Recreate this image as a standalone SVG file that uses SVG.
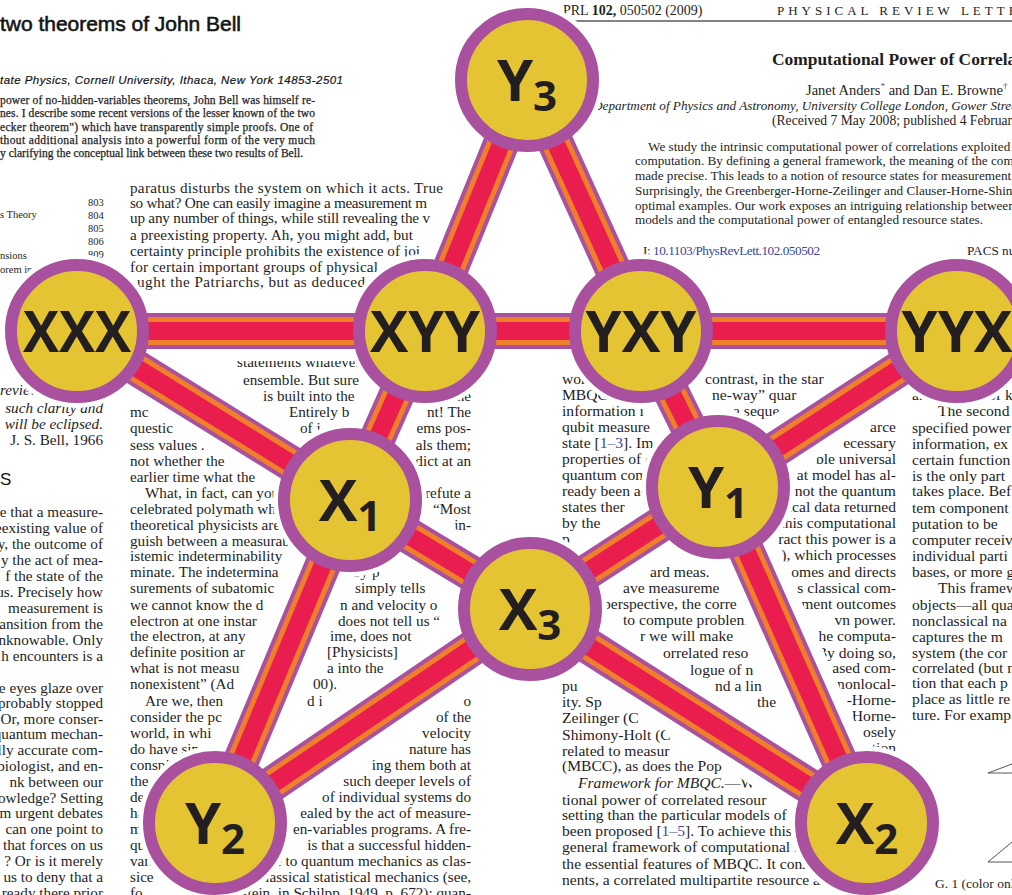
<svg xmlns="http://www.w3.org/2000/svg" xmlns:xlink="http://www.w3.org/1999/xlink" width="1012" height="895" viewBox="0 0 1012 895">
  <style>
    .t { font-family: "Liberation Serif", "Times New Roman", serif; fill: #1e1e1e; }
    .s { font-family: "Liberation Sans", Arial, sans-serif; fill: #151515; }
    .m { font-size: 15.2px; }
    .r { font-size: 15.6px; }
    .ab { font-size: 13.2px; }
    .la { font-size: 11.5px; stroke: #1e1e1e; stroke-width: 0.25; }
    .it { font-style: italic; }
    .e { text-anchor: end; }
    .lnk { fill: #3a45a0; }
    .halo { stroke: #ffffff; stroke-width: 60; }
    .bp { stroke: #a9519e; stroke-width: 36; }
    .bo { stroke: #ef7f2a; stroke-width: 28; }
    .br { stroke: #e91e4e; stroke-width: 18; }
    .node circle { fill: #e5c434; stroke: #a9519e; stroke-width: 12; }
    .lb { font-family: "Open Sans", "Liberation Sans", sans-serif; font-weight: 700; font-size: 58px; fill: #231f20; text-anchor: middle; }
    .sub { font-size: 42px; }
  </style>
  <defs>
    <line id="l1" x1="77" y1="331" x2="425" y2="331"/>
    <line id="l2" x1="425" y1="331" x2="641" y2="331"/>
    <line id="l3" x1="641" y1="331" x2="957" y2="331"/>
    <line id="l4" x1="527" y1="80" x2="425" y2="331"/>
    <line id="l5" x1="527" y1="80" x2="641" y2="331"/>
    <line id="l6" x1="425" y1="331" x2="350" y2="500"/>
    <line id="l7" x1="641" y1="331" x2="718" y2="487"/>
    <line id="l8" x1="77" y1="331" x2="350" y2="500"/>
    <line id="l9" x1="957" y1="331" x2="718" y2="487"/>
    <line id="l10" x1="350" y1="500" x2="530" y2="609"/>
    <line id="l11" x1="718" y1="487" x2="530" y2="609"/>
    <line id="l12" x1="350" y1="500" x2="215" y2="823"/>
    <line id="l13" x1="718" y1="487" x2="867" y2="823"/>
    <line id="l14" x1="530" y1="609" x2="215" y2="823"/>
    <line id="l15" x1="530" y1="609" x2="867" y2="823"/>
  </defs>

  <rect width="1012" height="895" fill="#ffffff"/>

  <!-- left page: Mermin, two theorems of John Bell -->
  <g id="page-left">
    <text class="s" x="0" y="31" font-size="21" stroke="#151515" stroke-width="0.6" textLength="241">two theorems of John Bell</text>
    <text class="s" x="0" y="84" font-size="11.5" font-style="italic" stroke="#151515" stroke-width="0.2" textLength="343">tate Physics, Cornell University, Ithaca, New York 14853-2501</text>
    <g class="t la">
      <text x="0" y="104" textLength="315">power of no-hidden-variables theorems, John Bell was himself re-</text>
      <text x="0" y="117" textLength="315">nes.  I describe some recent versions of the lesser known of the two</text>
      <text x="0" y="131" textLength="313">ecker theorem") which have transparently simple proofs.  One of</text>
      <text x="0" y="144" textLength="315">thout additional analysis into a powerful form of the very much</text>
      <text x="0" y="157" textLength="303">y clarifying the conceptual link between these two results of Bell.</text>
    </g>
    <g class="t" font-size="10.5">
      <text x="0" y="218">s Theory</text>
      <text x="0" y="259">nsions</text>
      <text x="0" y="273">orem in</text>
      <text x="88" y="206">803</text>
      <text x="88" y="219">804</text>
      <text x="88" y="232">805</text>
      <text x="88" y="245">806</text>
      <text x="88" y="258">809</text>
    </g>
    <g class="t m">
      <text x="130" y="193" textLength="313">paratus disturbs the system on which it acts.  True</text>
      <text x="130" y="208" textLength="297">so what?  One can easily imagine a measurement m</text>
      <text x="130" y="223" textLength="300">up any number of things, while still revealing the v</text>
      <text x="130" y="240" textLength="283">a preexisting property.  Ah, you might add, but</text>
      <text x="130" y="256" textLength="290">certainty principle prohibits the existence of joi</text>
      <text x="130" y="272" textLength="248">for certain important groups of physical</text>
      <text x="137" y="287" textLength="228">ught the Patriarchs, but as deduced</text>

      <text x="237" y="367">statements  whatever</text>
      <text x="243" y="385">ensemble.  But sure</text>
      <text x="263" y="401">is built into the</text>
      <text x="471" y="401" class="e">the</text>
      <text x="130" y="417">mc</text>
      <text x="289" y="417">Entirely b</text>
      <text x="471" y="417" class="e">nt!  The</text>
      <text x="130" y="433">questic</text>
      <text x="300" y="433">of i</text>
      <text x="471" y="433" class="e">ems pos-</text>
      <text x="130" y="450">sess values .</text>
      <text x="471" y="450" class="e">als them;</text>
      <text x="130" y="466">not whether the</text>
      <text x="471" y="466" class="e">dict at an</text>
      <text x="130" y="482">earlier time what the</text>
      <text x="145" y="498">What, in fact, can you</text>
      <text x="471" y="498" class="e">refute a</text>
      <text x="130" y="514">celebrated polymath who</text>
      <text x="471" y="514" class="e">“Most</text>
      <text x="130" y="530">theoretical physicists are</text>
      <text x="471" y="530" class="e">in-</text>
      <text x="130" y="546">guish between a measurab</text>
      <text x="130" y="561">istemic  indeterminability</text>
      <text x="130" y="577">minate.  The indetermina</text>
      <text x="345" y="577">l by p</text>
      <text x="130" y="593">surements of subatomic</text>
      <text x="355" y="593">simply tells</text>
      <text x="130" y="610">we cannot know the d</text>
      <text x="340" y="610">n and velocity o</text>
      <text x="130" y="626">electron at one instar</text>
      <text x="338" y="626">does not tell us “</text>
      <text x="130" y="641">the electron, at any</text>
      <text x="330" y="641">ime, does not</text>
      <text x="130" y="657">definite position ar</text>
      <text x="327" y="657">[Physicists]</text>
      <text x="130" y="673">what is not measu</text>
      <text x="327" y="673">a into the</text>
      <text x="130" y="689">nonexistent” (Ad</text>
      <text x="313" y="689">00).</text>
      <text x="145" y="706">Are we, then</text>
      <text x="307" y="706">d i</text>
      <text x="471" y="706" class="e">o</text>
      <text x="130" y="722">consider the pc</text>
      <text x="471" y="722" class="e">of the</text>
      <text x="130" y="738">world, in whi</text>
      <text x="471" y="738" class="e">velocity</text>
      <text x="130" y="754">do have sin</text>
      <text x="471" y="754" class="e">nature has</text>
      <text x="130" y="770">conspi</text>
      <text x="471" y="770" class="e">ing them both at</text>
      <text x="130" y="786">the</text>
      <text x="471" y="786" class="e">such deeper levels of</text>
      <text x="130" y="802">de</text>
      <text x="471" y="802" class="e">of individual systems do</text>
      <text x="130" y="818">ha</text>
      <text x="471" y="818" class="e">ealed by the act of measure-</text>
      <text x="130" y="834">m</text>
      <text x="471" y="834" class="e">en-variables programs.  A fre-</text>
      <text x="130" y="850">qu</text>
      <text x="471" y="850" class="e">is  that  a  successful  hidden-</text>
      <text x="130" y="866">vari</text>
      <text x="471" y="866" class="e">e to quantum mechanics as clas-</text>
      <text x="130" y="882">sice</text>
      <text x="471" y="882" class="e">classical statistical mechanics (see,</text>
      <text x="130" y="898">fo</text>
      <text x="471" y="898" class="e">nstein, in Schilpp, 1949, p. 672); quan-</text>
    </g>
    <g class="t m">
      <text x="0" y="395" class="it">reviews</text>
      <text x="103" y="413" class="it e">such clarity and</text>
      <text x="103" y="429" class="it e">will be eclipsed.</text>
      <text x="103" y="445" class="e">J. S. Bell, 1966</text>
      <text x="103" y="517" class="e">e that a measure-</text>
      <text x="103" y="533" class="e">eexisting value of</text>
      <text x="103" y="549" class="e">y, the outcome of</text>
      <text x="103" y="565" class="e">y the act of mea-</text>
      <text x="103" y="581" class="e">f the state of the</text>
      <text x="103" y="597" class="e">us.  Precisely how</text>
      <text x="103" y="613" class="e">measurement is</text>
      <text x="103" y="629" class="e">ansition from the</text>
      <text x="103" y="645" class="e">nknowable.  Only</text>
      <text x="103" y="661" class="e">h encounters is a</text>
      <text x="103" y="693" class="e">he eyes glaze over</text>
      <text x="103" y="708" class="e">probably stopped</text>
      <text x="103" y="724" class="e">Or, more conser-</text>
      <text x="103" y="739" class="e">quantum mechan-</text>
      <text x="103" y="755" class="e">lly accurate com-</text>
      <text x="103" y="771" class="e">biologist, and en-</text>
      <text x="103" y="787" class="e">nk between our</text>
      <text x="103" y="803" class="e">owledge?  Setting</text>
      <text x="103" y="818" class="e">m urgent debates</text>
      <text x="103" y="834" class="e">can one point to</text>
      <text x="103" y="850" class="e">that forces on us</text>
      <text x="103" y="866" class="e">?  Or is it merely</text>
      <text x="103" y="882" class="e">us to deny that a</text>
      <text x="103" y="898" class="e">ready there prior</text>
    </g>
    <text class="s" x="0" y="485" font-size="17">S</text>
  </g>

  <!-- right page: PRL 102, 050502 (2009) -->
  <g id="page-right">
    <text class="t" x="563" y="15" font-size="14">PRL <tspan font-weight="700">102,</tspan> 050502 (2009)</text>
    <text class="t" x="777" y="15" font-size="13" letter-spacing="4">PHYSICAL  REVIEW  LETTERS</text>
    <line x1="560" y1="21" x2="1012" y2="21" stroke="#5a5a5a" stroke-width="1.6"/>
    <text class="t" x="772" y="65" font-size="17.4" font-weight="700">Computational Power of Correlations</text>
    <text class="t" x="806" y="95" font-size="14.5">Janet Anders<tspan class="lnk" font-size="9" dy="-6">*</tspan><tspan dy="6"> and Dan E. Browne</tspan><tspan class="lnk" font-size="9" dy="-6">†</tspan></text>
    <text class="t it" x="593" y="110" font-size="13.2">Department of Physics and Astronomy, University College London, Gower Street</text>
    <text class="t" x="772" y="125" font-size="13.6">(Received 7 May 2008; published 4 February 2009)</text>
    <g class="t ab">
      <text x="648" y="151">We study the intrinsic computational power of correlations exploited in</text>
      <text x="635" y="165">computation. By defining a general framework, the meaning of the computational</text>
      <text x="635" y="180">made precise. This leads to a notion of resource states for measurement</text>
      <text x="635" y="195">Surprisingly, the Greenberger-Horne-Zeilinger and Clauser-Horne-Shimony</text>
      <text x="635" y="210">optimal examples. Our work exposes an intriguing relationship between</text>
      <text x="635" y="224" textLength="348">models and the computational power of entangled resource states.</text>
      <text x="643" y="255" textLength="177">I: <tspan class="lnk">10.1103/PhysRevLett.102.050502</tspan></text>
      <text x="967" y="255">PACS numbers</text>
    </g>
    <g class="t r">
      <text x="562" y="384">work</text>
      <text x="705" y="384">contrast, in the star</text>
      <text x="562" y="400">MBQC (</text>
      <text x="712" y="400">ne-way” quar</text>
      <text x="562" y="416">information i</text>
      <text x="733" y="416">a seque</text>
      <text x="562" y="432">qubit measure</text>
      <text x="896" y="432" class="e">arce</text>
      <text x="562" y="448">state [<tspan class="lnk">1–3</tspan>]. Im</text>
      <text x="896" y="448" class="e">ecessary</text>
      <text x="562" y="464">properties of qu</text>
      <text x="896" y="464" class="e">ble universal</text>
      <text x="562" y="480">quantum comp</text>
      <text x="896" y="480" class="e">at model has al-</text>
      <text x="562" y="496">ready been ac</text>
      <text x="896" y="496" class="e">s not the quantum</text>
      <text x="562" y="512">states ther</text>
      <text x="896" y="512" class="e">ssical data returned</text>
      <text x="562" y="528">by the</text>
      <text x="896" y="528" class="e">s this computational</text>
      <text x="562" y="544">p</text>
      <text x="896" y="544" class="e">ract this power is a</text>
      <text x="708" y="560">mpu</text>
      <text x="896" y="560" class="e">), which processes</text>
      <text x="650" y="577">ard  meas.</text>
      <text x="896" y="577" class="e">omes  and  directs</text>
      <text x="623" y="593">ave  measureme</text>
      <text x="896" y="593" class="e">s classical com-</text>
      <text x="603" y="609">perspective, the corre</text>
      <text x="896" y="609" class="e">ment outcomes</text>
      <text x="623" y="625">to compute problem</text>
      <text x="896" y="625" class="e">vn power.</text>
      <text x="640" y="641">r we will make</text>
      <text x="896" y="641" class="e">he computa-</text>
      <text x="663" y="658">orrelated reso</text>
      <text x="896" y="658" class="e">By doing so,</text>
      <text x="690" y="675">logue of n</text>
      <text x="896" y="673" class="e">ased com-</text>
      <text x="562" y="691">pu</text>
      <text x="715" y="691">nd a lin</text>
      <text x="896" y="689" class="e">nonlocal-</text>
      <text x="562" y="707">ity. Sp</text>
      <text x="757" y="707">the</text>
      <text x="896" y="705" class="e">-Horne-</text>
      <text x="562" y="723">Zeilinger  (C</text>
      <text x="896" y="721" class="e">Horne-</text>
      <text x="562" y="740">Shimony-Holt (C</text>
      <text x="896" y="737" class="e">osely</text>
      <text x="562" y="756">related   to   measur</text>
      <text x="896" y="753" class="e">tion</text>
      <text x="562" y="771">(MBCC), as does the Pop</text>
      <text x="578" y="788"><tspan class="it">Framework for MBQC.</tspan>—We</text>
      <text x="562" y="805">tional  power  of  correlated  resour</text>
      <text x="562" y="820">setting than the particular models of</text>
      <text x="562" y="836">been proposed [<tspan class="lnk">1–5</tspan>]. To achieve this, le</text>
      <text x="562" y="852">general framework of computational mod</text>
      <text x="562" y="869">the essential features of MBQC. It consists</text>
      <text x="562" y="885">nents, a correlated multipartite resource and</text>
    </g>
    <g class="t r">
      <text x="912" y="400">an</text>
      <text x="988" y="400">of k</text>
      <text x="938" y="416">The second co</text>
      <text x="912" y="433">specified power</text>
      <text x="912" y="449">information, ex</text>
      <text x="912" y="465">certain function</text>
      <text x="912" y="481">is the only part</text>
      <text x="912" y="496">takes place. Bef</text>
      <text x="912" y="513">tem component</text>
      <text x="912" y="529">putation   to   be</text>
      <text x="912" y="545">computer receiv</text>
      <text x="912" y="561">individual parti</text>
      <text x="912" y="577">bases, or more g</text>
      <text x="938" y="593">This framew</text>
      <text x="912" y="610">objects—all qua</text>
      <text x="912" y="626">nonclassical na</text>
      <text x="912" y="642">captures the m</text>
      <text x="912" y="658">system (the cor</text>
      <text x="912" y="673">correlated (but n</text>
      <text x="912" y="688">tion that each p</text>
      <text x="912" y="704">place as little re</text>
      <text x="912" y="720">ture. For examp</text>
      <text x="935" y="888" font-size="13.5">G. 1 (color online)</text>
    </g>
    <g stroke="#555" stroke-width="1" fill="none">
      <polyline points="1012,764 988,773 1012,773"/>
      <polyline points="1012,842 988,862 1012,862"/>
    </g>
  </g>

  <!-- white clearance under the graph -->
  <g id="halo">
    <use xlink:href="#l1" class="halo"/>
    <use xlink:href="#l2" class="halo"/>
    <use xlink:href="#l3" class="halo"/>
    <use xlink:href="#l4" class="halo"/>
    <use xlink:href="#l5" class="halo"/>
    <use xlink:href="#l6" class="halo"/>
    <use xlink:href="#l7" class="halo"/>
    <use xlink:href="#l8" class="halo"/>
    <use xlink:href="#l9" class="halo"/>
    <use xlink:href="#l10" class="halo"/>
    <use xlink:href="#l11" class="halo"/>
    <use xlink:href="#l12" class="halo"/>
    <use xlink:href="#l13" class="halo"/>
    <use xlink:href="#l14" class="halo"/>
    <use xlink:href="#l15" class="halo"/>
    <g fill="#ffffff">
      <circle cx="527" cy="80" r="77"/>
      <circle cx="77" cy="331" r="77"/>
      <circle cx="425" cy="331" r="77"/>
      <circle cx="641" cy="331" r="77"/>
      <circle cx="957" cy="331" r="77"/>
      <circle cx="350" cy="500" r="77"/>
      <circle cx="718" cy="487" r="77"/>
      <circle cx="530" cy="609" r="77"/>
      <circle cx="215" cy="823" r="77"/>
      <circle cx="867" cy="823" r="77"/>
    </g>
  </g>

  <!-- striped bars between the nodes -->
  <g id="connectors">
    <g id="c-XXX-XYY"><use xlink:href="#l1" class="bp"/><use xlink:href="#l1" class="bo"/><use xlink:href="#l1" class="br"/></g>
    <g id="c-XYY-YXY"><use xlink:href="#l2" class="bp"/><use xlink:href="#l2" class="bo"/><use xlink:href="#l2" class="br"/></g>
    <g id="c-YXY-YYX"><use xlink:href="#l3" class="bp"/><use xlink:href="#l3" class="bo"/><use xlink:href="#l3" class="br"/></g>
    <g id="c-Y3-XYY"><use xlink:href="#l4" class="bp"/><use xlink:href="#l4" class="bo"/><use xlink:href="#l4" class="br"/></g>
    <g id="c-Y3-YXY"><use xlink:href="#l5" class="bp"/><use xlink:href="#l5" class="bo"/><use xlink:href="#l5" class="br"/></g>
    <g id="c-XYY-X1"><use xlink:href="#l6" class="bp"/><use xlink:href="#l6" class="bo"/><use xlink:href="#l6" class="br"/></g>
    <g id="c-YXY-Y1"><use xlink:href="#l7" class="bp"/><use xlink:href="#l7" class="bo"/><use xlink:href="#l7" class="br"/></g>
    <g id="c-XXX-X1"><use xlink:href="#l8" class="bp"/><use xlink:href="#l8" class="bo"/><use xlink:href="#l8" class="br"/></g>
    <g id="c-YYX-Y1"><use xlink:href="#l9" class="bp"/><use xlink:href="#l9" class="bo"/><use xlink:href="#l9" class="br"/></g>
    <g id="c-X1-X3"><use xlink:href="#l10" class="bp"/><use xlink:href="#l10" class="bo"/><use xlink:href="#l10" class="br"/></g>
    <g id="c-Y1-X3"><use xlink:href="#l11" class="bp"/><use xlink:href="#l11" class="bo"/><use xlink:href="#l11" class="br"/></g>
    <g id="c-X1-Y2"><use xlink:href="#l12" class="bp"/><use xlink:href="#l12" class="bo"/><use xlink:href="#l12" class="br"/></g>
    <g id="c-Y1-X2"><use xlink:href="#l13" class="bp"/><use xlink:href="#l13" class="bo"/><use xlink:href="#l13" class="br"/></g>
    <g id="c-X3-Y2"><use xlink:href="#l14" class="bp"/><use xlink:href="#l14" class="bo"/><use xlink:href="#l14" class="br"/></g>
    <g id="c-X3-X2"><use xlink:href="#l15" class="bp"/><use xlink:href="#l15" class="bo"/><use xlink:href="#l15" class="br"/></g>
  </g>

  <!-- nodes -->
  <g id="node-Y3" class="node"><circle cx="527" cy="80" r="66"/><text class="lb" x="527" y="101">Y<tspan class="sub" dy="10">3</tspan></text></g>
  <g id="node-XXX" class="node"><circle cx="77" cy="331" r="66"/><text class="lb" x="77" y="352" textLength="108" lengthAdjust="spacingAndGlyphs">XXX</text></g>
  <g id="node-XYY" class="node"><circle cx="425" cy="331" r="66"/><text class="lb" x="425" y="352" textLength="110" lengthAdjust="spacingAndGlyphs">XYY</text></g>
  <g id="node-YXY" class="node"><circle cx="641" cy="331" r="66"/><text class="lb" x="641" y="352" textLength="111" lengthAdjust="spacingAndGlyphs">YXY</text></g>
  <g id="node-YYX" class="node"><circle cx="957" cy="331" r="66"/><text class="lb" x="957" y="352" textLength="111" lengthAdjust="spacingAndGlyphs">YYX</text></g>
  <g id="node-X1" class="node"><circle cx="350" cy="500" r="66"/><text class="lb" x="350" y="521">X<tspan class="sub" dy="10">1</tspan></text></g>
  <g id="node-Y1" class="node"><circle cx="718" cy="487" r="66"/><text class="lb" x="718" y="508">Y<tspan class="sub" dy="10">1</tspan></text></g>
  <g id="node-X3" class="node"><circle cx="530" cy="609" r="66"/><text class="lb" x="530" y="630">X<tspan class="sub" dy="10">3</tspan></text></g>
  <g id="node-Y2" class="node"><circle cx="215" cy="823" r="66"/><text class="lb" x="215" y="844">Y<tspan class="sub" dy="10">2</tspan></text></g>
  <g id="node-X2" class="node"><circle cx="867" cy="823" r="66"/><text class="lb" x="867" y="844">X<tspan class="sub" dy="10">2</tspan></text></g>
</svg>
